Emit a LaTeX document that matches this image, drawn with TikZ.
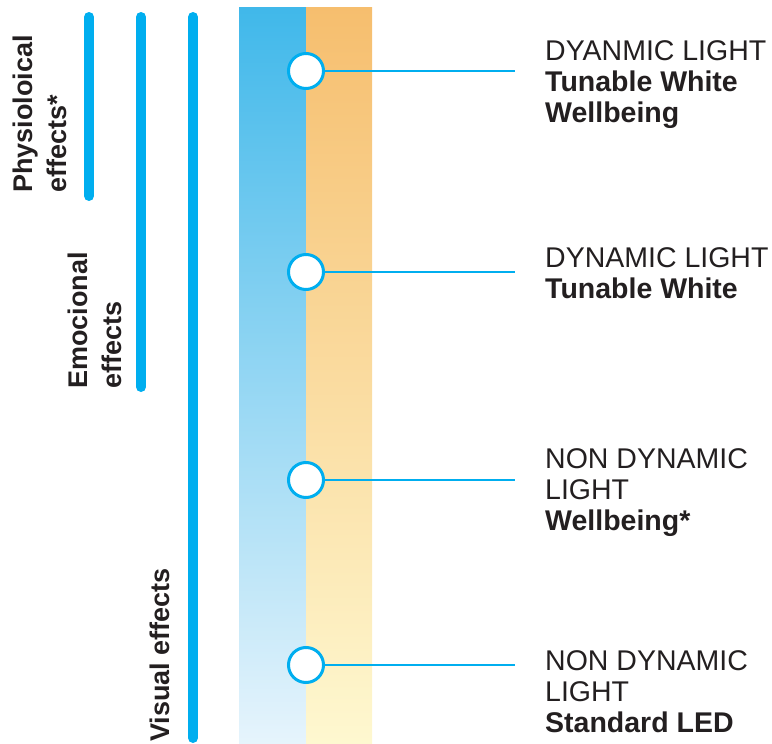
\documentclass[tikz,border=0pt]{standalone}
\usepackage{fontspec}
\setmainfont{Liberation Sans}
\definecolor{cyanline}{HTML}{00AEEF}
\definecolor{bluetop}{HTML}{40B8EA}
\definecolor{bluebot}{HTML}{E6F4FC}
\definecolor{orangetop}{HTML}{F6BE6E}
\definecolor{orangebot}{HTML}{FEF8D0}
\definecolor{ink}{HTML}{231F20}
\begin{document}
\begin{tikzpicture}[x=1pt,y=-1pt,
  effectbar/.style={line width=10pt,line cap=round,draw=cyanline},
  marker/.style={circle,draw=cyanline,line width=3pt,fill=white,minimum size=35pt,inner sep=0pt},
  leader/.style={draw=cyanline,line width=2.5pt},
  sidelabel/.style={rotate=90,anchor=north west,inner sep=0pt,align=left,text=ink,
    font=\bfseries\fontsize{27}{34}\selectfont},
  infotext/.style={anchor=north west,inner sep=0pt,align=left,text=ink,
    font=\fontsize{28.5}{31}\selectfont}]
\useasboundingbox (0,0) rectangle (772,744);
% gradient columns
\shade[top color=bluetop,bottom color=bluebot] (239,7) rectangle (306,744);
\shade[top color=orangetop,bottom color=orangebot] (306,7) rectangle (372,744);
% effect bars
\coordinate (b1t) at (89,17); \coordinate (b1b) at (89,196);
\coordinate (b2t) at (141,17); \coordinate (b2b) at (141,387);
\coordinate (b3t) at (193,17); \coordinate (b3b) at (193,738);
\draw[effectbar] (b1t) -- (b1b);
\draw[effectbar] (b2t) -- (b2b);
\draw[effectbar] (b3t) -- (b3b);
% side labels
\node[sidelabel] (phys) at (13,193) {Physioloical\\effects*};
\node[sidelabel] (emo) at (68,389) {Emocional\\effects};
\node[sidelabel] (vis) at (150,742) {Visual effects};
% markers and leaders
\coordinate (e1) at (515,71);
\coordinate (e2) at (515,272);
\coordinate (e3) at (515,480);
\coordinate (e4) at (515,665);
\node[marker] (m1) at (306,71) {};
\node[marker] (m2) at (306,272) {};
\node[marker] (m3) at (306,480) {};
\node[marker] (m4) at (306,665) {};
\draw[leader] (m1.east) -- (e1);
\draw[leader] (m2.east) -- (e2);
\draw[leader] (m3.east) -- (e3);
\draw[leader] (m4.east) -- (e4);
% texts
\node[infotext] (t1) at (545,40) {DYANMIC LIGHT\\\textbf{Tunable White}\\\textbf{Wellbeing}};
\node[infotext] (t2) at (545,247) {DYNAMIC LIGHT\\\textbf{Tunable White}};
\node[infotext] (t3) at (545,448) {NON DYNAMIC\\LIGHT\\\textbf{Wellbeing*}};
\node[infotext] (t4) at (545,650) {NON DYNAMIC\\LIGHT\\\textbf{Standard LED}};
\end{tikzpicture}
\end{document}
